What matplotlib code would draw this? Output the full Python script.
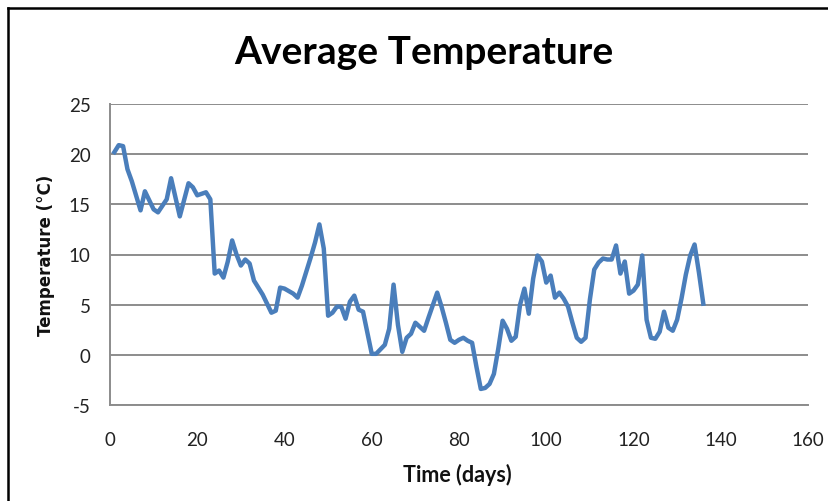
import matplotlib
matplotlib.use("Agg")
import matplotlib.pyplot as plt
from matplotlib.lines import Line2D

days = [1, 2, 3, 4, 5, 7, 8, 10, 11, 13, 14, 16, 18, 19, 20, 22, 23, 24, 25, 26,
        27, 28, 29, 30, 31, 32, 33, 35, 36, 37, 38, 39, 40, 42, 43, 44, 46, 47, 48, 49,
        50, 51, 52, 53, 54, 55, 56, 57, 58, 60, 61, 63, 64, 65, 66, 67, 68, 69, 70, 72,
        73, 75, 76, 77, 78, 79, 80, 81, 82, 83, 84, 85, 86, 87, 88, 89, 90, 91, 92, 93,
        94, 95, 96, 97, 98, 99, 100, 101, 102, 103, 104, 105, 106, 107, 108, 109, 110, 111, 112, 113,
        114, 115, 116, 117, 118, 119, 120, 121, 122, 123, 124, 125, 126, 127, 128, 129, 130, 131, 132, 133,
        134, 135, 136]
temps = [20.2, 20.9, 20.8, 18.5, 17.3, 14.4, 16.3, 14.5, 14.2, 15.5, 17.6, 13.8, 17.1, 16.7, 15.9, 16.2, 15.5, 8.1, 8.4, 7.7,
         9.3, 11.4, 10.0, 8.9, 9.5, 9.1, 7.4, 6.0, 5.1, 4.2, 4.4, 6.7, 6.6, 6.1, 5.7, 6.9, 9.7, 11.2, 13.0, 10.6,
         3.9, 4.2, 4.8, 4.8, 3.6, 5.3, 5.9, 4.5, 4.3, 0.1, 0.1, 1.0, 2.6, 7.0, 3.0, 0.3, 1.7, 2.1, 3.2, 2.4,
         3.7, 6.2, 4.8, 3.2, 1.5, 1.2, 1.5, 1.7, 1.4, 1.2, -1.2, -3.4, -3.3, -2.9, -1.9, 0.6, 3.4, 2.6, 1.4, 1.8,
         5.0, 6.6, 4.1, 7.6, 9.9, 9.3, 7.2, 7.9, 5.7, 6.2, 5.6, 4.8, 3.2, 1.7, 1.3, 1.7, 5.5, 8.5, 9.2, 9.6,
         9.5, 9.5, 10.9, 8.1, 9.3, 6.1, 6.4, 7.0, 9.9, 3.5, 1.7, 1.6, 2.3, 4.3, 2.7, 2.4, 3.5, 5.6, 8.0, 9.9,
         11.0, 8.2, 5.1]

x_ticks = [0, 20, 40, 60, 80, 100, 120, 140, 160]
y_ticks = [-5, 0, 5, 10, 15, 20, 25]

title = "Average Temperature"
x_label = "Time (days)"
y_label = "Temperature (°C)"

plt.rcParams['font.family'] = ['Lato', 'DejaVu Sans']
plt.rcParams['axes.unicode_minus'] = False

fig = plt.figure(figsize=(8.29, 5.02), dpi=100)
ax = fig.add_axes([110/829, (502-406)/502, (808-110)/829, (406-105)/502])

ax.plot(days, temps, color="#4a7ebb", linewidth=3.2, solid_joinstyle="round", zorder=3)

ax.set_xlim(0, 160)
ax.set_ylim(-5, 25)
ax.set_xticks(x_ticks)
ax.set_yticks(y_ticks)
ax.grid(axis="y", color="#8c8c8c", linewidth=1.4, zorder=0)
ax.tick_params(length=0, labelsize=13.5, colors="#222222")
ax.tick_params(axis="x", pad=19)
ax.tick_params(axis="y", pad=14)
for s in ["top", "right"]:
    ax.spines[s].set_visible(False)
for s in ["left", "bottom"]:
    ax.spines[s].set_color("#8c8c8c")
    ax.spines[s].set_linewidth(1.4)

fig.text(424/829, 1 - 53/502, title, ha="center", va="center", fontsize=28, fontweight="bold", color="black")
fig.text(457/829, 1 - 475/502, x_label, ha="center", va="center", fontsize=15.5, fontweight="bold", color="#111111")
fig.text(46/829, 1 - 255/502, y_label, ha="center", va="center", rotation=90, fontsize=12,
         fontweight="bold", color="#111111", family=["DejaVu Sans"])

# outer border (left and top visible)
fig.add_artist(Line2D([8/829, 8/829], [0, 1 - 9/502], transform=fig.transFigure, color="black", linewidth=1.8))
fig.add_artist(Line2D([8/829, 1], [1 - 9/502, 1 - 9/502], transform=fig.transFigure, color="black", linewidth=1.8))

fig.savefig("out.png", dpi=100)
